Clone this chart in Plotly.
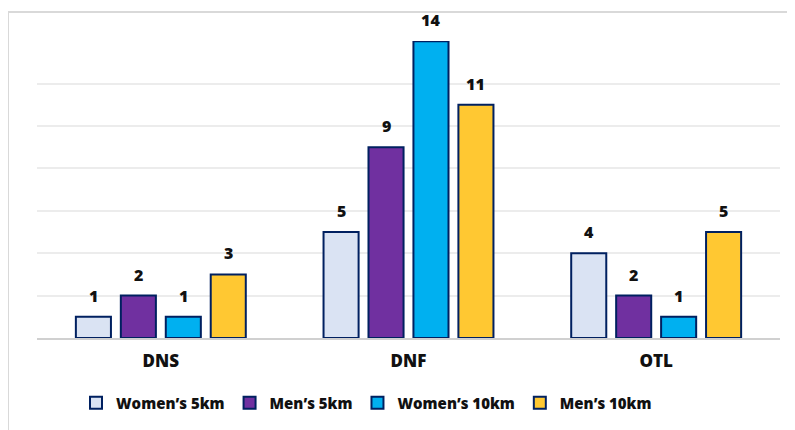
import plotly.graph_objects as go

categories = ["DNS", "DNF", "OTL"]
series_names = ["Women’s 5km", "Men’s 5km", "Women’s 10km", "Men’s 10km"]
women_5km = [1, 5, 4]
men_5km = [2, 9, 2]
women_10km = [1, 14, 1]
men_10km = [3, 11, 5]
series_values = [women_5km, men_5km, women_10km, men_10km]
colors = ["#dae3f3", "#7030a0", "#00b0f0", "#ffc832"]
outline = "#002060"
FONT = "Open Sans"

bargap = 0.274
bargroupgap = 0.22

fig = go.Figure()
for name, vals, col in zip(series_names, series_values, colors):
    fig.add_trace(go.Bar(
        x=categories, y=vals, name=name,
        marker=dict(color=col, line=dict(color=outline, width=2)),
        hoverinfo="x+y+name",
    ))

# value labels above the bars
n = len(series_names)
slot = (1 - bargap) / n
annotations = []
for k, vals in enumerate(series_values):
    for j, v in enumerate(vals):
        xc = j - (1 - bargap) / 2 + (k + 0.5) * slot
        annotations.append(dict(
            x=xc, y=v, xref="x", yref="y", text=str(v),
            showarrow=False, yanchor="middle", yshift=21,
            font=dict(family=FONT, size=16, color="#111111", weight=800),
        ))

# frame border (paper coords relative to the plot area 743x297)
x0p = (8 - 37) / 743
x1p = (800 - 37) / 743
y1p = (338 - 12) / 297
y0p = (338 - 440) / 297

fig.update_layout(
    width=795, height=430,
    margin=dict(l=29, r=23, t=33, b=100),
    paper_bgcolor="white", plot_bgcolor="white",
    barmode="group", bargap=bargap, bargroupgap=bargroupgap,
    annotations=annotations,
    shapes=[dict(type="rect", xref="paper", yref="paper",
                 x0=x0p, x1=x1p, y0=y0p, y1=y1p,
                 line=dict(color="#d9d9d9", width=2), layer="below")],
    font=dict(family=FONT, size=15, color="#111111"),
    showlegend=True,
    legend=dict(orientation="h", x=0.4435, xanchor="center", y=-0.219, yanchor="middle",
                font=dict(family=FONT, size=15, color="#111111", weight=800),
                itemclick=False, itemdoubleclick=False),
    xaxis=dict(showgrid=False, showline=True, linecolor="#d0d0d0", linewidth=2,
               ticks="outside", ticklen=7, tickcolor="rgba(0,0,0,0)",
               tickfont=dict(family=FONT, size=17, color="#111111", weight=800)),
    yaxis=dict(range=[0, 14.01], dtick=2, showgrid=True, gridcolor="#ececec", gridwidth=2,
               showticklabels=False, zeroline=False, showline=False, ticks=""),
)

fig.write_html("out.html")
